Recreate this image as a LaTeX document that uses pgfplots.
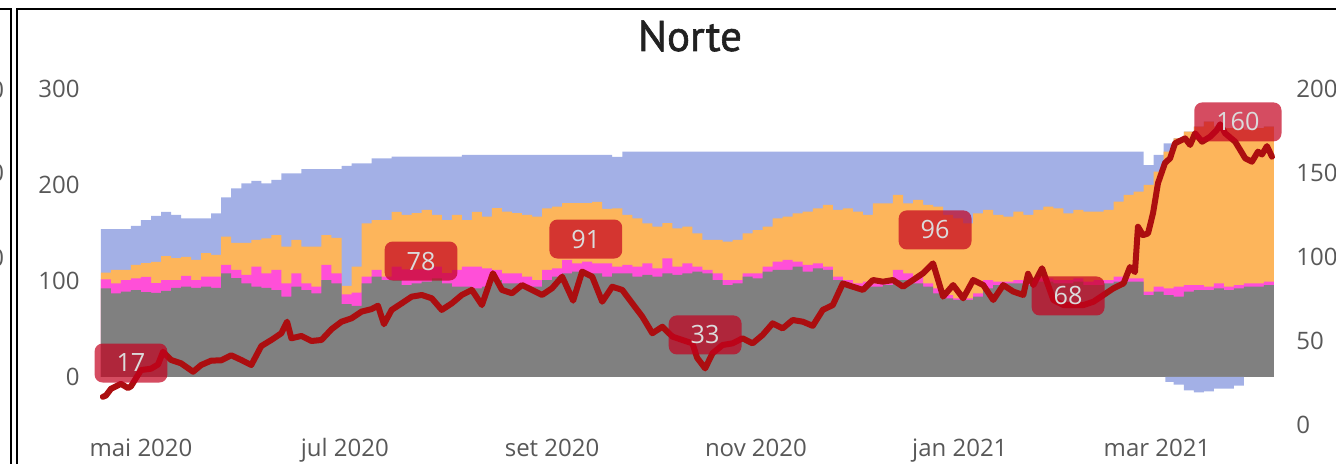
\documentclass[border=0pt]{standalone}
\usepackage{pgfplots}
\pgfplotsset{compat=1.18}
\usepackage{pgfplotstable}
\usepackage{fontspec}
\setmainfont{Open Sans}
\newfontfamily\titlefont[FakeBold=1.4]{PT Sans}
\definecolor{cgray}{RGB}{128,128,128}
\definecolor{cmag}{RGB}{255,79,216}
\definecolor{corange}{RGB}{253,181,91}
\definecolor{cblue}{RGB}{163,176,230}
\definecolor{cline}{RGB}{172,14,16}
\definecolor{clab}{RGB}{195,0,30}
\definecolor{ctick}{RGB}{88,88,88}
\tikzset{labbox/.style={fill=clab, fill opacity=0.7, text opacity=1, text=white!86!black,
    rounded corners=4pt, inner xsep=11pt, inner ysep=0pt, minimum height=19.5pt,
    font=\fontsize{12.6}{14}\selectfont}}

% d = days since 1 May 2020; g, m, o, b = top of each stacked layer (left axis)
\pgfplotstableread{
d g m o b
-12 92.4 101.8 108.6 153.9
-9 87.2 97.6 111.5 153.9
-6 88.8 101.0 111.5 153.9
-3 90.6 102.8 116.7 157.3
0 88.5 104.2 118.7 163.5
3 87.5 97.9 119.8 167.7
6 89.6 101.0 126.0 171.9
9 92.7 101.0 123.9 168.8
12 94.1 105.2 125.0 165.3
15 92.7 101.0 121.9 165.3
18 94.1 104.5 128.9 165.3
21 92.7 104.5 127.1 170.5
24 108.0 116.7 146.1 187.2
27 103.1 111.5 139.6 196.6
30 97.6 106.3 139.6 201.8
33 94.1 114.9 142.7 204.2
36 92.7 108.0 144.5 201.8
39 90.6 111.5 147.9 205.2
42 83.6 97.6 135.7 212.2
45 94.1 108.0 142.7 212.2
48 90.6 97.6 135.7 216.4
51 87.2 94.1 135.7 216.4
54 101.0 116.7 147.9 216.4
57 97.6 108.0 144.8 216.4
60 76.0 86.0 95.0 219.8
63 74.0 88.0 115.0 222.6
66 97.6 104.5 160.1 222.6
69 104.5 111.5 163.5 227.8
72 101.0 104.5 163.5 227.8
75 101.0 115.0 171.9 229.5
78 95.8 112.0 168.8 229.5
81 97.6 112.0 170.8 229.5
84 99.3 112.0 174.0 229.5
87 102.8 115.0 168.8 229.5
90 97.6 108.3 163.5 229.5
93 94.1 111.5 168.8 229.5
96 94.1 114.9 163.5 231.3
99 92.4 114.9 171.9 231.3
102 94.1 113.2 167.0 231.3
105 101.0 111.5 176.0 231.3
108 97.6 108.0 172.2 231.3
111 97.6 108.0 170.8 231.3
114 94.1 104.5 168.8 231.3
117 94.1 101.0 167.0 231.3
120 101.0 111.5 175.7 231.3
123 104.5 113.2 177.4 231.3
126 108.0 121.9 181.2 231.3
129 109.7 118.4 181.2 231.3
132 108.0 120.1 181.2 231.3
135 108.0 118.4 182.3 231.3
138 104.5 118.4 175.0 231.3
141 108.0 114.9 175.7 229.2
144 108.0 116.7 168.8 234.7
147 104.5 114.9 165.3 234.7
150 106.3 118.4 160.1 234.7
153 104.5 113.2 156.6 234.7
156 108.0 123.6 160.4 234.7
159 106.3 114.9 154.9 234.7
162 108.0 118.4 156.6 234.7
165 109.7 114.9 149.7 234.7
168 108.0 111.5 142.7 234.7
171 101.0 108.0 142.7 234.7
174 95.8 101.0 140.9 234.7
177 97.6 101.0 142.7 234.7
180 104.5 108.0 149.7 234.7
183 102.8 108.0 153.1 234.7
186 109.7 114.9 156.6 234.7
189 111.5 120.1 165.3 234.7
192 111.5 121.9 167.0 234.7
195 114.9 120.1 170.5 234.7
198 109.7 116.7 172.2 234.7
201 113.2 118.4 175.7 234.7
204 111.5 114.9 179.2 234.7
207 101.0 104.5 174.0 234.7
210 94.1 101.0 175.7 234.7
213 92.4 97.6 172.2 234.7
216 94.1 99.3 168.8 234.7
219 94.1 97.6 180.9 234.7
222 95.8 101.0 180.9 234.7
225 101.0 111.5 189.6 234.7
228 101.0 108.0 180.9 234.7
231 97.6 104.5 184.4 234.7
234 94.1 97.6 179.2 234.7
237 87.2 92.4 177.4 234.7
240 82.0 85.4 168.8 234.7
243 80.2 82.0 165.3 234.7
246 80.2 82.0 160.1 234.7
249 83.6 87.2 170.5 234.7
252 92.4 101.0 174.0 234.7
255 95.8 99.3 168.8 234.7
258 97.6 99.3 167.0 234.7
261 97.6 101.0 172.2 234.7
264 95.8 99.3 168.8 234.7
267 99.3 102.8 174.0 234.7
270 99.3 102.8 177.4 234.7
273 97.6 101.0 175.7 234.7
276 97.6 101.0 170.5 234.7
279 99.3 102.8 174.0 234.7
282 95.8 99.3 172.2 234.7
285 95.8 101.0 172.2 234.7
288 97.6 101.0 174.0 234.7
291 99.3 104.5 182.6 234.7
294 99.3 102.8 189.6 234.7
297 99.3 102.8 193.0 234.7
300 85.4 88.8 200.0 220.8
303 88.8 94.1 213.9 231.3
306 85.4 92.4 234.7 243.4
309 83.6 94.1 248.6 248.6
312 88.8 95.8 255.5 255.5
315 90.6 95.8 260.7 260.7
318 90.6 94.1 265.9 265.9
321 92.4 97.6 260.7 260.7
324 90.6 94.1 259.1 259.1
327 92.4 95.8 259.1 259.1
330 94.1 97.6 257.3 257.3
333 94.1 97.6 259.1 259.1
336 95.8 99.3 260.7 260.7
339 95.8 99.3 260.7 260.7
}\bars

\pgfplotstableread{
d n
306.5 -5
309 -8
312 -14
315 -16
318 -15
321 -12
324 -12
327 -9
330 -9
}\negblue

\pgfplotstableread{
d r
-11.4 16.8
-10.5 17.5
-9 21.5
-6 24.5
-3.9 22
-3 23
0 32.7
3 33.5
5.1 36
6.6 43.6
9 38.7
12 36.7
15.6 31.7
18 35.7
21 38.3
24 38.5
27 41.5
30 38.7
33 35.7
36 47
39 50.6
42 54.6
43.7 61.5
45 51.6
48 53
51 50
54 50.6
57 57
60 61.5
63 63.5
66 67.5
69 69
70.9 71
72.7 60
75 68.5
78 72.4
81 76.4
84 77.4
87 75.4
90 68.5
93 72.4
96 77.4
99 80.4
102 71.4
105.3 90.3
108 80.4
111 78.4
114 83.3
117 80.4
120 77.4
123 81.4
126 88.3
129.3 74
132 91.3
135 88.3
138 73.4
141 82.3
144 80.4
147 72.4
150 64.5
153 54.6
156 58.5
159 52.6
162 50.6
165 48.6
166.4 40
168.8 33.7
171 42.7
174 47.6
177 48.6
180 51.6
183 48.6
186 53.6
189 60.5
192 57.5
195 62.5
198 61.5
201 59
204 68.5
207 71.4
210 84.3
213 82.3
216 80.4
219 86.3
222 85.3
225 86.3
228 82.3
231 86.3
234 90.3
237 96.2
240 76.4
243 83.3
246 75.4
249 86.3
252 83.3
255 74.4
258 83.3
261 79.4
264 77.4
265.4 90
267 83.3
269.6 93.3
273 74.4
276 71.4
279 71.4
282 71.4
285 73.4
288 77.4
291 81.4
294 84.3
295.9 94
297.4 91
298.3 118
299.8 113
301.3 114
302.8 126
304.3 144
306.4 156
307.9 158.7
309.4 167.7
312.4 170.6
313.9 166.7
315.4 173.6
317.5 168.6
319.9 171.6
321.9 175.6
322.9 179
324.4 173.6
327.4 168.6
330.4 158.7
332.4 156.7
334.2 162.7
335.4 161
336.9 166
338.4 159.7
}\linedata

\begin{document}
\begin{tikzpicture}
\useasboundingbox (0,0) rectangle (668pt,232pt);
% panel frames
\draw[line width=1pt] (0,227.35pt) -- (5.65pt,227.35pt) -- (5.65pt,0);
\draw[line width=1pt] (8.35pt,0) -- (8.35pt,227.35pt) -- (668pt,227.35pt);
% cut-off tick labels of the neighbouring panel
\foreach \yy/\tt in {187pt/200,145.5pt/150,103pt/100}{
  \node[anchor=east, inner sep=0pt, text=ctick, font=\fontsize{12}{14}\selectfont] at (2.3pt,\yy) {\tt};
}
% title
\node[anchor=base, font=\titlefont\fontsize{21.5}{24}\selectfont, text=black!87] at (345pt,206.5pt) {Norte};

\begin{axis}[
  at={(47.5pt,19.5pt)}, anchor=south west,
  width=595pt, height=175pt, scale only axis,
  xmin=-13.76, xmax=342.3, ymin=-50, ymax=314.58,
  axis line style={draw=none}, major tick length=0pt,
  xtick={0,61,123,184,245,304},
  xticklabels={mai 2020,jul 2020,set 2020,nov 2020,jan 2021,mar 2021},
  ytick={0,100,200,300},
  tick label style={font=\fontsize{12}{14}\selectfont, text=ctick},
  xticklabel style={anchor=base, yshift=-16pt},
  yticklabel style={anchor=east, inner sep=0pt, xshift=-7.5pt},
  /pgf/number format/assume math mode=true,
]
\addplot[const plot mark left, draw=none, fill=cblue] table[x=d,y=b]{\bars} \closedcycle;
\addplot[const plot mark left, draw=none, fill=corange] table[x=d,y=o]{\bars} \closedcycle;
\addplot[const plot mark left, draw=none, fill=cmag] table[x=d,y=m]{\bars} \closedcycle;
\addplot[const plot mark left, draw=none, fill=cgray] table[x=d,y=g]{\bars} \closedcycle;
\addplot[const plot mark left, draw=none, fill=cblue] table[x=d,y=n]{\negblue} \closedcycle;
\end{axis}

\begin{axis}[
  at={(47.5pt,19.5pt)}, anchor=south west,
  width=595pt, height=175pt, scale only axis,
  xmin=-13.76, xmax=342.3, ymin=0, ymax=208.33,
  axis line style={draw=none}, major tick length=0pt,
  xtick=\empty,
  ytick={0,50,100,150,200},
  yticklabel pos=right,
  tick label style={font=\fontsize{12}{14}\selectfont, text=ctick},
  yticklabel style={anchor=west, inner sep=0pt, xshift=5.5pt},
  /pgf/number format/assume math mode=true,
  clip=false,
]
\addplot[cline, line width=3pt, line join=round, line cap=round] table[x=d,y=r]{\linedata};
\node[labbox] at (axis cs:-3.0,36.9) {17};
\node[labbox] at (axis cs:83.8,97.6) {78};
\node[labbox] at (axis cs:133.1,110.7) {91};
\node[labbox] at (axis cs:168.8,53.6) {33};
\node[labbox] at (axis cs:237.6,116.1) {96};
\node[labbox] at (axis cs:277.4,76.8) {68};
\node[labbox] at (axis cs:328.2,180.4) {160};
\end{axis}
\end{tikzpicture}
\end{document}
